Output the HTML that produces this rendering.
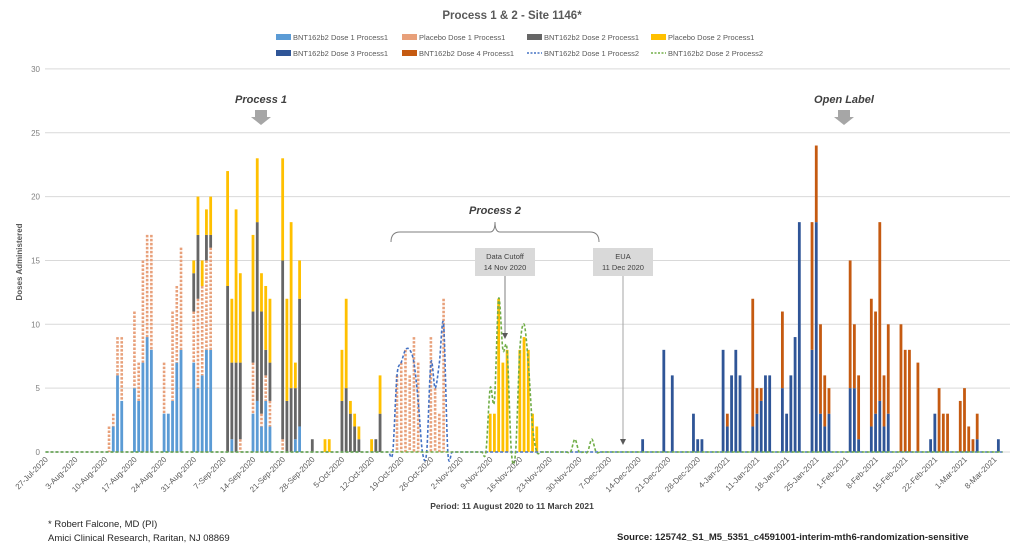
<!DOCTYPE html>
<html><head><meta charset="utf-8"><style>
body{margin:0;background:#fff;width:1024px;height:555px;overflow:hidden;font-family:"Liberation Sans",sans-serif}
svg text{font-family:"Liberation Sans",sans-serif}
</style></head><body>
<svg id="chart" width="1024" height="555" viewBox="0 0 1024 555" xmlns="http://www.w3.org/2000/svg">
<text x="512" y="19" text-anchor="middle" font-size="11.5" font-weight="bold" fill="#595959">Process 1 &amp; 2 - Site 1146*</text>
<g id="legend" font-size="7.5" fill="#595959"></g>
<g id="grid"></g>
<g id="yticks" font-size="8" fill="#7f7f7f"></g>
<text transform="translate(22,262) rotate(-90)" text-anchor="middle" font-size="8" font-weight="bold" fill="#595959">Doses Administered</text>
<g id="bars"></g>
<g id="lines"></g>
<g id="xticks" font-size="8" fill="#595959"></g>
<text x="512" y="509" text-anchor="middle" font-size="8.5" font-weight="bold" fill="#404040">Period: 11 August 2020 to 11 March 2021</text>
<g>
<text x="261" y="103" text-anchor="middle" font-size="11" font-weight="bold" font-style="italic" fill="#404040">Process 1</text>
<polygon points="255,110 267,110 267,117 271,117 261,125 251,117 255,117" fill="#a6a6a6"/></g>
<g>
<text x="844" y="103" text-anchor="middle" font-size="11" font-weight="bold" font-style="italic" fill="#404040">Open Label</text>
<polygon points="838,110 850,110 850,117 854,117 844,125 834,117 838,117" fill="#a6a6a6"/></g>
<g>
<text x="495" y="214" text-anchor="middle" font-size="11" font-weight="bold" font-style="italic" fill="#404040">Process 2</text>
<path d="M391,242 Q391,232 400,232 L490,232 Q495,232 495,222 Q495,232 500,232 L590,232 Q599,232 599,242" fill="none" stroke="#7f7f7f" stroke-width="1"/></g>
<g>
<rect x="475" y="248" width="60" height="28" fill="#d9d9d9"/>
<text x="505" y="259" text-anchor="middle" font-size="7.5" fill="#404040">Data Cutoff</text>
<text x="505" y="270" text-anchor="middle" font-size="7.5" fill="#404040">14 Nov 2020</text>
<line x1="505" y1="276" x2="505" y2="334" stroke="#7f7f7f"/><polygon points="502,333 508,333 505,339" fill="#595959"/></g>
<g>
<rect x="593" y="248" width="60" height="28" fill="#d9d9d9"/>
<text x="623" y="259" text-anchor="middle" font-size="7.5" fill="#404040">EUA</text>
<text x="623" y="270" text-anchor="middle" font-size="7.5" fill="#404040">11 Dec 2020</text>
<line x1="623" y1="276" x2="623" y2="440" stroke="#a6a6a6"/><polygon points="620,439 626,439 623,445" fill="#595959"/></g>
<text x="48" y="527" font-size="9.5" fill="#262626">* Robert Falcone, MD (PI)</text>
<text x="48" y="541" font-size="9.5" fill="#262626">Amici Clinical Research, Raritan, NJ 08869</text>
<text x="617" y="540" font-size="9.5" font-weight="bold" fill="#262626">Source: 125742_S1_M5_5351_c4591001-interim-mth6-randomization-sensitive</text>
</svg>
<script>
const tickLabels=["27-Jul-2020","3-Aug-2020","10-Aug-2020","17-Aug-2020","24-Aug-2020","31-Aug-2020","7-Sep-2020","14-Sep-2020","21-Sep-2020","28-Sep-2020","5-Oct-2020","12-Oct-2020","19-Oct-2020","26-Oct-2020","2-Nov-2020","9-Nov-2020","16-Nov-2020","23-Nov-2020","30-Nov-2020","7-Dec-2020","14-Dec-2020","21-Dec-2020","28-Dec-2020","4-Jan-2021","11-Jan-2021","18-Jan-2021","25-Jan-2021","1-Feb-2021","8-Feb-2021","15-Feb-2021","22-Feb-2021","1-Mar-2021","8-Mar-2021"];
const yTicks=[0,5,10,15,20,25,30];
// days since 27-Jul-2020
const days=[15,16,17,18,21,22,23,24,25,28,29,30,31,32,35,36,37,38,39,43,44,45,46,49,50,51,52,53,56,57,58,59,60,63,66,67,70,71,72,73,74,77,78,79,83,84,85,86,87,88,91,92,93,94,105,106,107,108,109,112,113,114,115,116,141,146,148,153,154,155,160,161,162,163,164,167,168,169,170,171,174,175,176,177,178,181,182,183,184,185,190,191,192,195,196,197,198,199,202,203,204,206,209,210,211,212,213,216,217,218,219,220,225];
const dose1P1=[0,2,6,4,5,4,7,9,8,3,3,4,7,8,7,5,6,8,8,0,1,0,0,3,4,2,4,2,0,0,0,1,2,0,0,0,0,0,0,0,0,0,0,0,0,0,0,0,0,0,0,0,0,0,0,0,0,0,0,0,0,0,0,0,0,0,0,0,0,0,0,0,0,0,0,0,0,0,0,0,0,0,0,0,0,0,0,0,0,0,0,0,0,0,0,0,0,0,0,0,0,0,0,0,0,0,0,0,0,0,0,0,0];
const placebo1P1=[2,1,3,5,6,3,8,8,9,4,0,7,6,8,4,7,7,7,8,0,0,0,1,4,0,1,2,2,1,0,0,0,0,0,0,0,0,0,0,0,0,0,0,0,6,7,8,6,9,7,9,5,3,12,0,0,0,0,0,0,0,0,0,0,0,0,0,0,0,0,0,0,0,0,0,0,0,0,0,0,0,0,0,0,0,0,0,0,0,0,0,0,0,0,0,0,0,0,0,0,0,0,0,0,0,0,0,0,0,0,0,0,0];
const dose2P1=[0,0,0,0,0,0,0,0,0,0,0,0,0,0,3,5,0,2,1,13,6,7,6,4,14,8,2,3,14,4,5,4,10,1,0,0,4,5,3,2,1,0,1,3,0,0,0,0,0,0,0,0,0,0,0,0,0,0,0,0,0,0,0,0,0,0,0,0,0,0,0,0,0,0,0,0,0,0,0,0,0,0,0,0,0,0,0,0,0,0,0,0,0,0,0,0,0,0,0,0,0,0,0,0,0,0,0,0,0,0,0,0,0];
const placebo2P1=[0,0,0,0,0,0,0,0,0,0,0,0,0,0,1,3,2,2,3,9,5,12,7,6,5,3,5,5,8,8,13,2,3,0,1,1,4,7,1,1,1,1,0,3,0,0,0,0,0,0,0,0,0,0,3,3,12,7,8,8,9,8,3,2,0,0,0,0,0,0,0,0,0,0,0,0,0,0,0,0,0,0,0,0,0,0,0,0,0,0,0,0,0,0,0,0,0,0,0,0,0,0,0,0,0,0,0,0,0,0,0,0,0];
const dose3P1=[0,0,0,0,0,0,0,0,0,0,0,0,0,0,0,0,0,0,0,0,0,0,0,0,0,0,0,0,0,0,0,0,0,0,0,0,0,0,0,0,0,0,0,0,0,0,0,0,0,0,0,0,0,0,0,0,0,0,0,0,0,0,0,0,1,8,6,3,1,1,8,2,6,8,6,2,3,4,6,6,5,3,6,9,18,8,18,3,2,3,5,5,1,2,3,4,2,3,0,0,0,0,1,3,0,0,0,0,0,0,0,1,1];
const dose4P1=[0,0,0,0,0,0,0,0,0,0,0,0,0,0,0,0,0,0,0,0,0,0,0,0,0,0,0,0,0,0,0,0,0,0,0,0,0,0,0,0,0,0,0,0,0,0,0,0,0,0,0,0,0,0,0,0,0,0,0,0,0,0,0,0,0,0,0,0,0,0,0,1,0,0,0,10,2,1,0,0,6,0,0,0,0,10,6,7,4,2,10,5,5,10,8,14,4,7,10,8,8,7,0,0,5,3,3,4,5,2,1,2,0];
const lineDays=[83,84,85,86,87,88,91,92,93,94,105,106,107,108,109,112,113,114,115,125,129];
const dose1P2=[6,7,8,8,7,4,7,5,7,10,0,0,0,0,0,0,0,0,0,0,0];
const dose2P2=[0,0,0,0,0,0,0,0,0,0,5,4,12,8,8,8,10,7,2,1,1];

const NS="http://www.w3.org/2000/svg";
const X0=45.5,PXD=4.235,Y0=452,PXU=12.77,LEFT=45,RIGHT=1010,MAXDAY=227;
const xs=d=>X0+d*PXD, ys=v=>Y0-v*PXU;
function mk(tag,attrs,parent){const e=document.createElementNS(NS,tag);for(const k in attrs)e.setAttribute(k,attrs[k]);parent.appendChild(e);return e;}
const grid=document.getElementById('grid'),yt=document.getElementById('yticks');
yTicks.forEach(v=>{
 const l=mk('line',{x1:LEFT,x2:RIGHT,y1:ys(v),y2:ys(v),stroke:'#d9d9d9','stroke-width':1},grid);
 
 
 const t=mk('text',{x:40,y:ys(v)+3,'text-anchor':'end'},yt);t.textContent=v;
 
 
});
const xt=document.getElementById('xticks');
tickLabels.forEach((s,i)=>{
 const x=xs(i*7);
 const t=mk('text',{x:0,y:0,'text-anchor':'end',transform:`translate(${x+3},${Y0+8}) rotate(-45)`},xt);t.textContent=s;
 
 
});
const bars=document.getElementById('bars');
const series=[[dose1P1,'#5b9bd5',false],[placebo1P1,'#e8a07a',true],[dose2P1,'#666666',false],[placebo2P1,'#ffc000',false],[dose3P1,'#2f5597',false],[dose4P1,'#c55a11',false]];
days.forEach((d,i)=>{
 let base=0;const x=xs(d)-1.4;
 series.forEach(([arr,c,hatch],si)=>{
  const v=arr[i];if(!v)return;
  const y1=ys(base+v),y2=ys(base);
  let r;
  if(hatch){r=mk('line',{x1:x+1.4,x2:x+1.4,y1:y1,y2:y2,stroke:c,'stroke-width':2.6,'stroke-dasharray':'2.5,1.5'},bars);}
  else r=mk('rect',{x:x,y:y1,width:2.8,height:y2-y1,fill:c},bars);
  
  
  base+=v;
 });
});
function lineVals(vals){const a=new Array(MAXDAY).fill(0);lineDays.forEach((d,i)=>{a[d]=vals[i];});return a;}
function smoothPath(P){
 let s=`M${P[0][0].toFixed(1)},${P[0][1].toFixed(1)}`;
 for(let i=0;i<P.length-1;i++){
  const p0=P[i-1]||P[i],p1=P[i],p2=P[i+1],p3=P[i+2]||p2,t=0.16;
  const c1=[p1[0]+(p2[0]-p0[0])*t,p1[1]+(p2[1]-p0[1])*t],c2=[p2[0]-(p3[0]-p1[0])*t,p2[1]-(p3[1]-p1[1])*t];
  s+=` C${c1[0].toFixed(1)},${c1[1].toFixed(1)} ${c2[0].toFixed(1)},${c2[1].toFixed(1)} ${p2[0].toFixed(1)},${p2[1].toFixed(1)}`;
 }
 return s;
}
const lines=document.getElementById('lines');
[[dose1P2,'#4472c4'],[dose2P2,'#70ad47']].forEach(([vals,c],k)=>{
 const a=lineVals(vals);
 const P=a.map((v,d)=>[xs(d),ys(v)]);
 const p=mk('path',{d:smoothPath(P),fill:'none',stroke:c,'stroke-width':1.6,'stroke-dasharray':'3,2'},lines);
 
 
});
const legend=document.getElementById('legend');
const legItems=[["BNT162b2 Dose 1 Process1",'#5b9bd5','rect',276,38],["Placebo Dose 1 Process1",'#e8a07a','rect',402,38],["BNT162b2 Dose 2 Process1",'#666666','rect',527,38],["Placebo Dose 2 Process1",'#ffc000','rect',651,38],["BNT162b2 Dose 3 Process1",'#2f5597','rect',276,54],["BNT162b2 Dose 4 Process1",'#c55a11','rect',402,54],["BNT162b2 Dose 1 Process2",'#4472c4','line',527,54],["BNT162b2 Dose 2 Process2",'#70ad47','line',651,54]];
legItems.forEach(([txt,c,kind,x,y])=>{
 const g=mk('g',{},legend);
 
 
 if(kind==='rect')mk('rect',{x:x,y:y-4,width:15,height:6,fill:c},g);
 else mk('line',{x1:x,x2:x+15,y1:y-1,y2:y-1,stroke:c,'stroke-width':1.5,'stroke-dasharray':'2,1.5'},g);
 const t=mk('text',{x:x+17,y:y+2},g);t.textContent=txt;
});
</script>
</body></html>
